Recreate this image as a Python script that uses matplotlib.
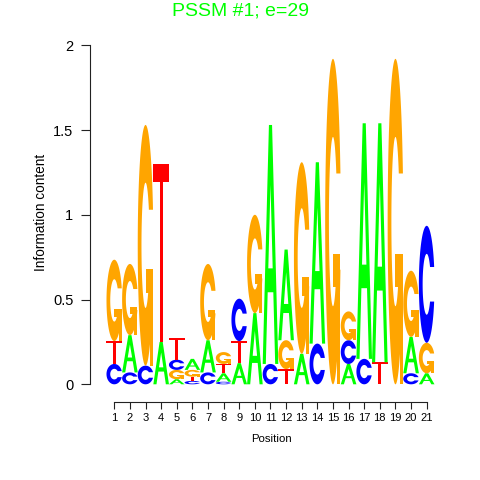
import numpy as np
import matplotlib
matplotlib.use("Agg")
import matplotlib.pyplot as plt
from matplotlib.patches import Polygon

plt.rcParams['font.family'] = ['Liberation Sans', 'DejaVu Sans']

# ---- data (information content per letter, per position) ----
positions = list(range(1, 22))
A_heights = [0, 0.22, 0, 0.25, 0.03, 0.065, 0.19, 0.05, 0.125, 0.42, 1.41,
             0.535, 0.18, 1.07, 0, 0.12, 1.39, 1.41, 0, 0.215, 0.065]
C_heights = [0.12, 0.07, 0.11, 0, 0.06, 0.02, 0.07, 0.015, 0.25, 0, 0.12,
             0, 0, 0.24, 0, 0.14, 0.15, 0, 0, 0.065, 0.69]
G_heights = [0.48, 0.42, 1.42, 0, 0.055, 0.04, 0.45, 0.07, 0, 0.58, 0,
             0.17, 1.13, 0, 1.92, 0.17, 0, 0, 1.92, 0.39, 0.18]
T_heights = [0.135, 0, 0, 1.05, 0.13, 0.025, 0, 0.055, 0.13, 0, 0,
             0.09, 0, 0, 0, 0, 0, 0.13, 0, 0, 0]
y_ticks = [0, 0.5, 1, 1.5, 2]
y_tick_labels = ["0", "0.5", "1", "1.5", "2"]
title = "PSSM #1; e=29"

colors = {"A": "#00FF00", "C": "#0000FF", "G": "#FFA500", "T": "#FF0000"}
INNER_R = 0.26


# ---- seqLogo-style letter shapes (unit box) ----
def _ring():
    a1 = np.linspace(0.3 + np.pi / 2, np.pi, 100)
    a2 = np.linspace(np.pi, 1.5 * np.pi, 100)
    xl1 = 0.5 + 0.5 * np.sin(a1); yl1 = 0.5 + 0.5 * np.cos(a1)
    xl2 = 0.5 + 0.5 * np.sin(a2); yl2 = 0.5 + 0.5 * np.cos(a2)
    xl = np.concatenate([xl1, xl2]); yl = np.concatenate([yl1, yl2])
    x = np.concatenate([xl, xl[::-1]]); y = np.concatenate([yl, 1 - yl[::-1]])
    xi1 = 0.5 + INNER_R * np.sin(a1); yi1 = 0.5 + INNER_R * np.cos(a1)
    m = yi1 <= yl1.max()
    xi1 = xi1[m]; yi1 = yi1[m].copy(); yi1[0] = yl1.max()
    xi2 = 0.5 + INNER_R * np.sin(a2); yi2 = 0.5 + INNER_R * np.cos(a2)
    xi = np.concatenate([xi1, xi2]); yi = np.concatenate([yi1, yi2])
    x1 = np.concatenate([xi, xi[::-1]]); y1 = np.concatenate([yi, 1 - yi[::-1]])
    x = np.concatenate([x, x1[::-1]]); y = np.concatenate([y, y1[::-1]])
    return x, y, xl1.max()


def letter_polys(letter):
    """Return list of (xs, ys, fill) in unit coordinates."""
    if letter == "A":
        x = 0.1 * np.array([0, 4, 6, 10, 8, 6.8, 3.2, 2, 0])
        y = 0.1 * np.array([0, 10, 10, 0, 0, 3, 3, 0, 0])
        xh = 0.1 * np.array([3.6, 5, 6.4, 3.6])
        yh = 0.1 * np.array([4, 7.5, 4, 4])
        return [(x, y, colors["A"]), (xh, yh, "white")]
    if letter == "T":
        x = 0.1 * np.array([0, 10, 10, 6, 6, 4, 4, 0])
        y = 0.1 * np.array([10, 10, 9, 9, 0, 0, 9, 9])
        return [(x, y, colors["T"])]
    x, y, r1 = _ring()
    if letter == "C":
        return [(x, y, colors["C"])]
    h1 = 0.4
    xa = np.array([r1, 0.5, 0.5, r1 - 0.2, r1 - 0.2, r1, r1])
    ya = np.array([h1, h1, h1 - 0.1, h1 - 0.1, 0, 0, h1])
    return [(x[::-1], y[::-1], colors["G"]), (xa, ya, colors["G"])]


# ---- figure ----
W = H = 480
fig = plt.figure(figsize=(4.8, 4.8), dpi=100)
ax_left, ax_right, ax_top, ax_bottom = 90, 440, 45.3, 401.5
ax = fig.add_axes([ax_left / W, (H - ax_bottom) / H,
                   (ax_right - ax_left) / W, (ax_bottom - ax_top) / H])
ax.patch.set_visible(False)
ax.set_xlim(-0.5557, 21.852)
ax.set_ylim(-0.1015, 2.0)

heights = {"A": A_heights, "C": C_heights, "G": G_heights, "T": T_heights}
for i, pos in enumerate(positions):
    col = sorted([(heights[l][i], l) for l in "ACGT"], key=lambda t: t[0])
    ybase = 0.0
    for h, l in col:
        if h <= 0:
            continue
        for xs, ys, fc in letter_polys(l):
            pts = np.column_stack([pos - 0.5 + xs, ybase + h * ys])
            ax.add_patch(Polygon(pts, closed=True, facecolor=fc,
                                 edgecolor="none", lw=0, clip_on=False))
        ybase += h

for s in ("top", "right"):
    ax.spines[s].set_visible(False)
ax.spines["left"].set_bounds(0, 2)
ax.spines["bottom"].set_bounds(positions[0], positions[-1])
for s in ("left", "bottom"):
    ax.spines[s].set_linewidth(0.8)
    ax.spines[s].set_color("#222222")

ax.set_yticks(y_ticks)
ax.set_yticklabels(y_tick_labels)
ax.set_xticks(positions)
ax.set_xticklabels([str(p) for p in positions])
ax.tick_params(axis="y", length=6.5, width=0.8, pad=5.5, labelsize=10.5,
               color="#222222")
ax.tick_params(axis="x", length=4.7, width=0.8, pad=3.5, labelsize=8,
               color="#222222")

fig.text(0.5, 1 - 15 / H, title, ha="center", va="baseline",
         color="#00FF00", fontsize=14)
fig.text(45 / W, 1 - 212 / H, "Information content", rotation=90,
         rotation_mode="anchor", ha="center", va="baseline", fontsize=9.8)
fig.text(271 / W, 1 - 442 / H, "Position", ha="center", va="baseline",
         fontsize=8.2)

fig.savefig("out.png", dpi=100)
